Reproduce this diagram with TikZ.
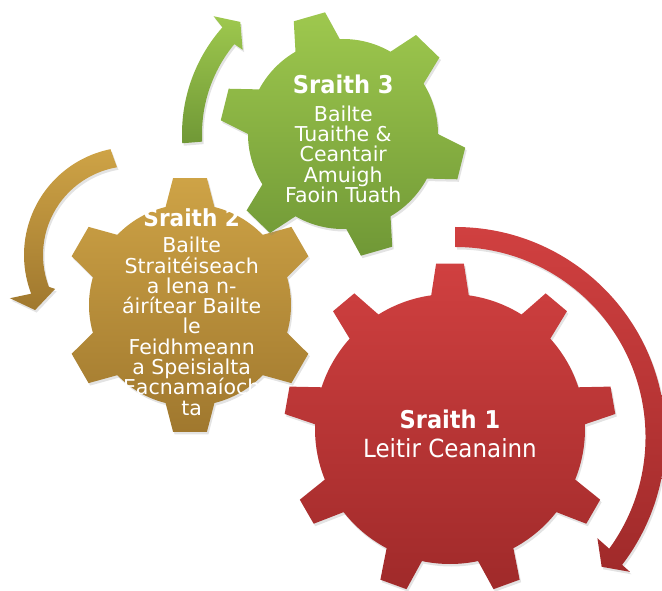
\documentclass[tikz,border=0pt]{standalone}
\usepackage{fontspec}
\setmainfont{DejaVu Sans}
\newfontfamily\narrowfont{DejaVu Sans}[FakeStretch=0.92]
\usetikzlibrary{shadows}
\definecolor{redtop}{RGB}{208,64,64}
\definecolor{redbot}{RGB}{160,42,42}
\definecolor{goldtop}{RGB}{206,163,70}
\definecolor{goldbot}{RGB}{160,120,46}
\definecolor{greentop}{RGB}{158,200,78}
\definecolor{greenbot}{RGB}{112,152,54}

% gear outline: teeth, phase, inner r, outer r, base half-angle, tip half-angle
\newcommand{\gearpath}[6]{({#2-#5}:#3) \foreach \k in {1,...,#1}{
    -- ({#2+360/#1*(\k-1)-#6}:#4) -- ({#2+360/#1*(\k-1)+#6}:#4)
    -- ({#2+360/#1*(\k-1)+#5}:#3)
    arc[start angle={#2+360/#1*(\k-1)+#5}, end angle={#2+360/#1*\k-#5}, radius=#3]} -- cycle}

\begin{document}
\begin{tikzpicture}[x=1pt,y=1pt,
    redshade/.style={top color=redtop,bottom color=redbot},
    goldshade/.style={top color=goldtop,bottom color=goldbot},
    greenshade/.style={top color=greentop,bottom color=greenbot},
    softshadow/.style={drop shadow={shadow xshift=1.5pt,shadow yshift=-2.5pt,opacity=0.22}},
    title/.style={anchor=base,text=white,inner sep=0pt,font=\narrowfont\bfseries\fontsize{#1}{#1}\selectfont},
    body/.style={anchor=base,text=white,inner sep=0pt,font=\fontsize{#1}{#1}\selectfont},
    bigbody/.style={anchor=base,text=white,inner sep=0pt,font=\narrowfont\fontsize{#1}{#1}\selectfont}]
    \useasboundingbox (0,0) rectangle (662,-591);

    % Red gear and arrow
    \path[redshade,softshadow,shift={(450,-429)}] \gearpath{9}{90}{135}{166}{8}{4.8};
    \path[redshade,softshadow,shift={(455.5,-437)}] (90:210) arc[start angle=90,end angle=-37.5,radius=210]
        -- (-37.7:220.5) -- (-41.6:195.5) -- (-35.5:174.3) -- (-36:190)
        arc[start angle=-36,end angle=90,radius=190] -- cycle;

    % Gold gear and arrow
    \path[goldshade,softshadow,shift={(190,-305)}] \gearpath{6}{90}{101}{128}{14}{7.6};
    \path[goldshade,softshadow,shift={(132,-255)}] (101.5:108) arc[start angle=101.5,end angle=201,radius=108]
        -- (199.5:129.5) -- (209.6:111.5) -- (203.8:84) -- (201:89)
        arc[start angle=201,end angle=99.7,radius=89] -- cycle;

    % Green gear and arrow
    \path[greenshade,softshadow,shift={(343,-134)}] \gearpath{6}{106}{95}{123}{14}{7.6};
    \path[greenshade,softshadow,shift={(343,-134)}] (183.3:161) arc[start angle=183.3,end angle=138.5,radius=161]
        -- (137.7:175) -- (132.5:152) -- (140:131) -- (140.4:141)
        arc[start angle=140.4,end angle=183.1,radius=141] -- cycle;

    % Texts
    \node[title=24.5] (s1) at (450,-428) {Sraith 1};
    \node[bigbody=25] (s1-1) at (450,-457) {Leitir Ceanainn};

    \node[title=23.5] (s2) at (191.7,-226) {Sraith 2};
    \foreach \txt [count=\i] in {Bailte,Straitéiseach,a lena n-,áirítear Bailte,le,Feidhmeann,a Speisialta,Eacnamaíoch,ta}
        \node[body=20.5] (s2-\i) at (191.7,{-252.7-20.3*(\i-1)}) {\txt};

    \node[title=24.5] (s3) at (343.3,-94) {Sraith 3};
    \foreach \txt [count=\i] in {Bailte,Tuaithe \&,Ceantair,Amuigh,Faoin Tuath}
        \node[body=20.5] (s3-\i) at (343.3,{-121.8-20.1*(\i-1)}) {\txt};
\end{tikzpicture}
\end{document}
